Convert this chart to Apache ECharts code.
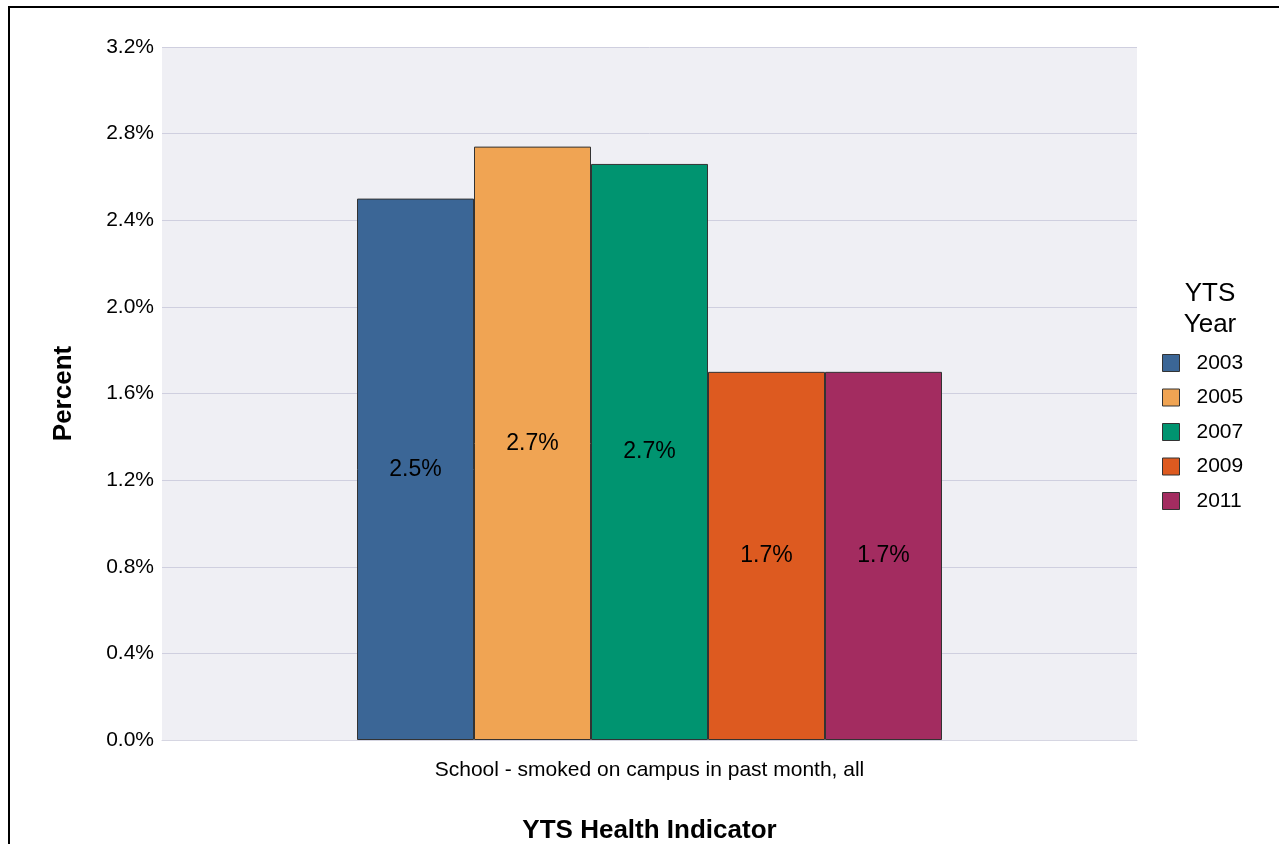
<!DOCTYPE html>
<html><head><meta charset="utf-8">
<script src="https://cdn.jsdelivr.net/npm/echarts@6/dist/echarts.min.js"></script>
<style>html,body{margin:0;padding:0;background:#fff}#c{width:1279px;height:844px}</style>
</head><body><div id="c"></div>
<script>
const categories = ['School - smoked on campus in past month, all'];
const years = ['2003', '2005', '2007', '2009', '2011'];
const values2003 = [2.50];
const values2005 = [2.74];
const values2007 = [2.66];
const values2009 = [1.70];
const values2011 = [1.70];
const colors = ['#3b6696', '#f0a453', '#009470', '#dd5a20', '#a32c60'];
const yTicks = { min: 0, max: 3.2, interval: 0.4 };

const seriesValues = [values2003, values2005, values2007, values2009, values2011];
const FONT = 'Liberation Sans, Arial, sans-serif';
const chart = echarts.init(document.getElementById('c'));
chart.setOption({
  animation: false,
  backgroundColor: '#fff',
  textStyle: { fontFamily: FONT },
  graphic: [{
    type: 'rect', silent: true,
    shape: { x: 9, y: 7, width: 1400, height: 1000 },
    style: { fill: 'none', stroke: '#000', lineWidth: 2 }
  }],
  title: {
    text: 'YTS\nYear', left: 1210, top: 278, textAlign: 'center', padding: 0,
    textStyle: { fontFamily: FONT, fontSize: 26, fontWeight: 'normal', color: '#000', lineHeight: 31 }
  },
  legend: {
    orient: 'vertical', left: 1162, top: 352.5, itemWidth: 17, itemHeight: 17, itemGap: 13.5,
    padding: 0, icon: 'rect',
    textStyle: { fontFamily: FONT, fontSize: 21, lineHeight: 17, color: '#000', padding: [0, 0, 0, 12] },
    itemStyle: { borderColor: '#333', borderWidth: 1 },
    data: years
  },
  grid: { left: 162, width: 975, top: 47, height: 693, outerBoundsMode: 'none', containLabel: false,
    show: true, backgroundColor: '#efeff4', borderWidth: 0 },
  xAxis: {
    type: 'category', data: categories,
    name: 'YTS Health Indicator', nameLocation: 'middle', nameGap: 78,
    nameTextStyle: { fontFamily: FONT, fontSize: 26, fontWeight: 'bold', color: '#000' },
    axisLine: { show: true, lineStyle: { color: '#d6d6e2', width: 1 } },
    axisTick: { show: false },
    axisLabel: { fontFamily: FONT, fontSize: 21, color: '#000', margin: 20 }
  },
  yAxis: {
    type: 'value', min: yTicks.min, max: yTicks.max, interval: yTicks.interval,
    name: 'Percent', nameLocation: 'middle', nameGap: 85,
    nameTextStyle: { fontFamily: FONT, fontSize: 26, fontWeight: 'bold', color: '#000' },
    axisLine: { show: false }, axisTick: { show: false },
    axisLabel: { fontFamily: FONT, fontSize: 21, color: '#000', margin: 8, formatter: v => v.toFixed(1) + '%' },
    splitLine: { lineStyle: { color: '#cfcfdf', width: 1 } }
  },
  series: years.map((y, i) => ({
    name: y, type: 'bar', data: seriesValues[i],
    barGap: '0%', barCategoryGap: '40%',
    itemStyle: { color: colors[i], borderColor: '#333', borderWidth: 1 },
    label: { show: true, position: 'inside', fontFamily: FONT, fontSize: 23, color: '#000',
      formatter: p => p.value.toFixed(1) + '%' }
  }))
});
</script></body></html>
